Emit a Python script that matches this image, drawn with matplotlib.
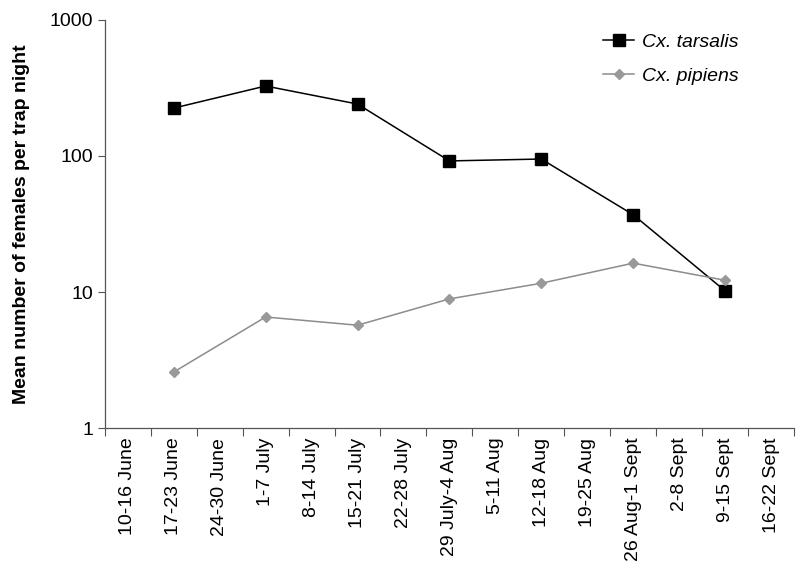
import numpy as np
import matplotlib.pyplot as plt
from matplotlib.ticker import FixedLocator, NullFormatter

plt.rcParams['font.family'] = ['Liberation Sans', 'DejaVu Sans']

weeks = ["10-16 June", "17-23 June", "24-30 June", "1-7 July", "8-14 July",
         "15-21 July", "22-28 July", "29 July-4 Aug", "5-11 Aug", "12-18 Aug",
         "19-25 Aug", "26 Aug-1 Sept", "2-8 Sept", "9-15 Sept", "16-22 Sept"]
sampled = [1, 3, 5, 7, 9, 11, 13]
tarsalis = [225, 327, 241, 92, 95, 37, 10.2]
pipiens = [2.58, 6.55, 5.7, 8.9, 11.6, 16.3, 12.2]

fig = plt.figure(figsize=(8, 5.81), dpi=100)
ax = fig.add_axes([0.131, 0.2633, 0.8615, 0.7023])

ax.plot(sampled, tarsalis, color="black", lw=1.1, marker="s", ms=8,
        label="Cx. tarsalis")
ax.plot(sampled, pipiens, color="#8c8c8c", lw=1.1, marker="D", ms=5.5,
        markerfacecolor="#999999", markeredgecolor="#999999", label="Cx. pipiens")

ax.set_yscale("log")
ax.set_ylim(1, 1000)
ax.set_yticks([1, 10, 100, 1000])
ax.set_yticklabels(["1", "10", "100", "1000"])
ax.yaxis.set_minor_locator(FixedLocator([]))
ax.set_xlim(-0.5, len(weeks) - 0.5)
ax.set_xticks(range(len(weeks)))
ax.set_xticklabels(weeks, rotation=90)
ax.xaxis.set_minor_locator(FixedLocator(np.arange(-0.5, len(weeks), 1)))
ax.xaxis.set_minor_formatter(NullFormatter())
ax.tick_params(axis="x", which="major", length=0, labelsize=14, pad=7)
ax.tick_params(axis="x", which="minor", length=6, width=0.8, color="#555555")
ax.tick_params(axis="y", which="major", length=5, width=0.8, labelsize=14,
               color="#555555")

for s in ["top", "right"]:
    ax.spines[s].set_visible(False)
for s in ["left", "bottom"]:
    ax.spines[s].set_color("#555555")
    ax.spines[s].set_linewidth(0.9)

ax.set_ylabel("Mean number of females per trap night", fontsize=14,
              fontweight="bold", labelpad=14)

leg = ax.legend(loc="upper right", bbox_to_anchor=(0.945, 1.01), frameon=False,
                prop={"style": "italic", "size": 14}, handlelength=1.6,
                handletextpad=0.4, labelspacing=0.85)

fig.savefig("out.png", dpi=100)
